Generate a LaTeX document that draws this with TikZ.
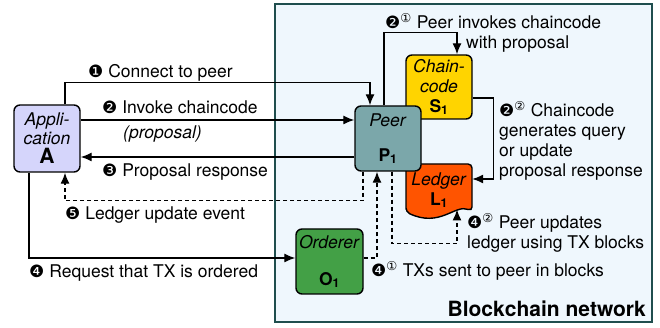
\documentclass[tikz,border=0pt]{standalone}
\usepackage{fontspec}
\setmainfont{TeX Gyre Heros}
\newfontfamily\symfont{DejaVu Sans}
\usetikzlibrary{arrows.meta}
\definecolor{appfill}{HTML}{D5D5FB}
\definecolor{peerfill}{HTML}{7BA7AA}
\definecolor{ccfill}{HTML}{FFD400}
\definecolor{ledgerfill}{HTML}{FF5400}
\definecolor{ordfill}{HTML}{43A046}
\definecolor{netfill}{HTML}{EFF7FD}
\definecolor{netline}{HTML}{1F4E4E}
\newcommand\stepno[1]{{\symfont\fontsize{17}{17}\selectfont #1}}
\newcommand\substep[1]{\textsuperscript{\symfont #1}}

\begin{document}
\begin{tikzpicture}[x=1pt, y=1pt,
    box/.style={draw, line width=1.4pt, rounded corners=6pt, minimum width=66pt,
        minimum height=65pt, inner sep=0pt, align=center, font=\fontsize{17.5}{20}\selectfont},
    arr/.style={line width=1.3pt, -{Latex[length=11pt,width=9pt]}},
    dsh/.style={arr, dash pattern=on 4pt off 3pt},
    lbl/.style={inner sep=0pt, align=left, font=\fontsize{17.5}{20}\selectfont}]

    \useasboundingbox (0,0) rectangle (660,328);
    \draw[netline, line width=2.5pt, fill=netfill] (275,6) rectangle (652,324);
    \node[anchor=base east, inner sep=0pt, font=\fontsize{21}{24}\selectfont\bfseries] (net) at (646,11) {Blockchain network};

    % ledger
    \draw[fill=ledgerfill, line width=1.4pt, rounded corners=4pt] (406,116) -- (406,164) -- (472,164) -- (472,117)
        .. controls (455,124) and (440,100) .. cycle;
    \node[minimum width=66pt, minimum height=44pt, inner sep=0pt, align=center, font=\fontsize{17.5}{20}\selectfont] (L) at (439,138) {\textit{Ledger}\\\textbf{L\textsubscript{1}}};
    \coordinate (lw) at (457,118.5);

    \node[box, fill=appfill, minimum height=67pt] (A) at (47,189.5) {\textit{Appli-}\\[-1pt]\textit{cation}\\[-1pt]{\fontsize{21}{21}\selectfont\bfseries A}};
    \node[box, fill=ccfill, minimum height=64pt] (S) at (439,241) {\textit{Chain-}\\\textit{code}\\\textbf{S\textsubscript{1}}};
    \node[box, fill=peerfill] (P) at (388,189.5) {\textit{Peer}\\[15pt]\textbf{P\textsubscript{1}}};
    \node[box, fill=ordfill, minimum width=67pt] (O) at (329.5,66.5) {\textit{Orderer}\\[17pt]\textbf{O\textsubscript{1}}};

    % connectors
    \draw[arr] ([xshift=18pt]A.north) -- ++(0,22) -| ([xshift=-18pt]P.north);
    \draw[arr] ([yshift=18.5pt]A.east) -- ([yshift=18.5pt]P.west);
    \draw[arr] ([yshift=-18.5pt]P.west) -- ([yshift=-18.5pt]A.east);
    \draw[dsh] ([xshift=-25pt]P.south) -- ++(0,-29) -| ([xshift=18pt]A.south);
    \draw[arr] ([xshift=-18pt]A.south) |- ([yshift=3.5pt]O.west);
    \draw[dsh] ([yshift=3.5pt]O.east) -| ([xshift=-11pt]P.south);
    \draw[dsh] ([xshift=4pt]P.south) -- ++(0,-72) -| (lw);
    \draw[arr] ([xshift=-4pt]P.north) -- ++(0,73) -| ([xshift=18pt]S.north);
    \draw[arr] ([yshift=-11pt]S.east) -- ++(21,0) |- ([yshift=11pt]L.east);

    % labels
    \node[lbl, anchor=base west] (t1) at (88,250) {\stepno{❶} Connect to peer};
    \node[lbl, anchor=base west] (t2) at (102,214) {\stepno{❷} Invoke chaincode};
    \node[lbl, anchor=base west] (t2b) at (123,189) {\textit{(proposal)}};
    \node[lbl, anchor=base west] (t3) at (102,151) {\stepno{❸} Proposal response};
    \node[lbl, anchor=base west] (t5) at (65,108) {\stepno{❺} Ledger update event};
    \node[lbl, anchor=base west] (t4) at (29,50) {\stepno{❹} Request that TX is ordered};
    \node[lbl, anchor=base west] (t21) at (385,299) {\stepno{❷}\substep{①} Peer invokes chaincode};
    \node[lbl, anchor=base west] (t21b) at (466,279) {with proposal};
    \node[lbl, anchor=base west] (t22) at (499,151) {\stepno{❷}\substep{②} Chaincode\\generates query\\or update\\proposal response};
    \node[lbl, anchor=base west] (t42) at (467,79) {\stepno{❹}\substep{②} Peer updates\\ledger using TX blocks};
    \node[lbl, anchor=base west] (t41) at (371,51) {\stepno{❹}\substep{①} TXs sent to peer in blocks};

\end{tikzpicture}
\end{document}
